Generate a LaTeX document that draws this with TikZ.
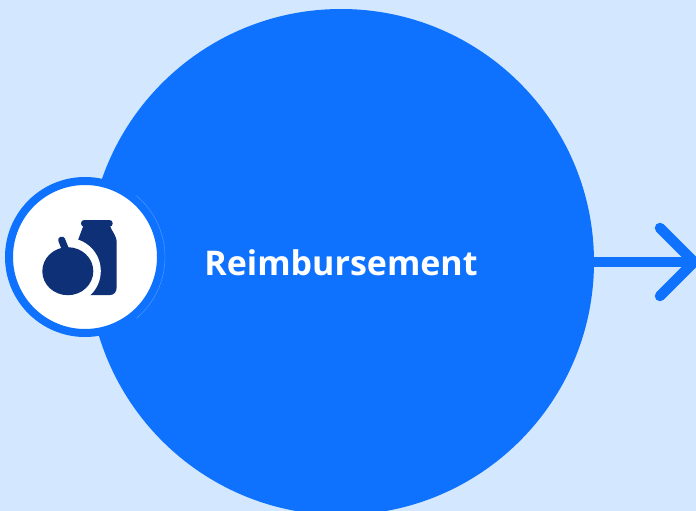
\documentclass[tikz,border=0pt]{standalone}
\usepackage{fontspec}
\setmainfont{Liberation Sans}
\newfontfamily\labelfont[BoldFont={Open Sans Bold}]{Open Sans}
\definecolor{bgblue}{HTML}{D3E8FF}
\definecolor{mainblue}{HTML}{0F72FF}
\definecolor{darkblue}{HTML}{0D3076}
\tikzset{
  bigcircle/.style={circle,fill=mainblue,draw=none,minimum size=506pt,inner sep=0pt},
  badge/.style={circle,fill=white,draw=mainblue,line width=8pt,minimum size=152pt,inner sep=0pt},
  seam/.style={draw=mainblue!70!white,line width=0.4pt},
  label/.style={text=white,font=\labelfont\fontsize{34}{40}\selectfont\bfseries,inner sep=0pt},
  connector/.style={draw=mainblue,line width=10.5pt},
  arrowhead/.style={connector,line cap=round,line join=miter,miter limit=10},
  icon/.style={fill=darkblue,draw=none}
}
\begin{document}
\begin{tikzpicture}[x=1pt,y=-1pt]
\useasboundingbox (0,0) rectangle (696,511);
\clip (0,0) rectangle (696,511);
\fill[bgblue] (0,0) rectangle (696,511);
\node[bigcircle] (big) at (341,262) {};
\coordinate (tip) at (694,262);
\coordinate (headtop) at (660,228);
\coordinate (headbot) at (660,296);
\draw[connector] (big.east) -- (tip);
\draw[arrowhead] (headtop) -- (tip) -- (headbot);
\node[badge] (badge) at (85,257) {};
\draw[seam] (badge.center) ++(-50:80) arc[start angle=-50,end angle=50,radius=80];
% jar
\fill[icon,rounded corners=3.2pt] (81,220) rectangle (112.7,226.8);
\fill[icon] (83.3,226) -- (110,226)
  .. controls (112,232) and (116.7,235) .. (116.7,243) -- (116.7,287)
  .. controls (116.7,292) and (114,295) .. (110,295)
  -- (75,295) -- (75,248) -- (78.3,239.3) -- cycle;
\fill[white] (67.8,271) circle[radius=33];
% apple
\fill[icon] (67.8,271.2) ellipse[x radius=25.5,y radius=24];
\draw[darkblue,line width=7pt,line cap=round] (61.7,240) -- (65.7,250);
\node[label,anchor=base] (title) at (341,275) {Reimbursement};
\end{tikzpicture}
\end{document}
